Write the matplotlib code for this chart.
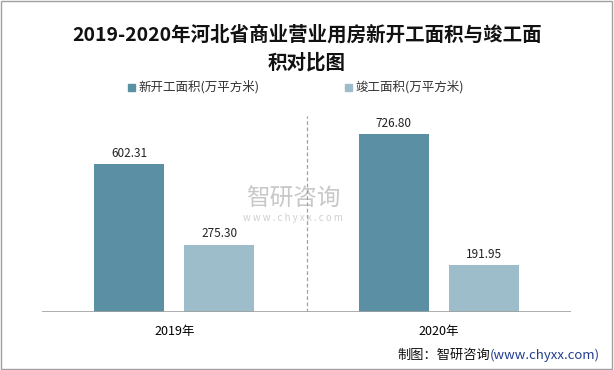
import matplotlib
matplotlib.use("Agg")
import matplotlib.pyplot as plt
from matplotlib.patches import Rectangle

plt.rcParams['font.family'] = ['Noto Sans CJK SC', 'DejaVu Sans']

years = ["2019年", "2020年"]
new_start = [602.31, 726.80]
completed = [275.30, 191.95]
series_names = ["新开工面积(万平方米)", "竣工面积(万平方米)"]
colors = ["#5b8fa4", "#9ebdca"]

fig = plt.figure(figsize=(6.14, 3.70), dpi=100)
fig.patches.append(Rectangle((0.002, 0.003), 0.995, 0.993, transform=fig.transFigure,
                             fill=False, edgecolor="#a0a0a0", linewidth=1))

# axes: x 42..571 px, y baseline 312, top 116 px (=800)
W, H = 614, 370
ax = fig.add_axes([42 / W, (H - 312) / H, (571 - 42) / W, (312 - 116) / H])

x = [0, 1]
bw = 0.265
off = 0.170
b1 = ax.bar([i - off for i in x], new_start, bw, color=colors[0])
b2 = ax.bar([i + off for i in x], completed, bw, color=colors[1])
for bars in (b1, b2):
    for r in bars:
        ax.text(r.get_x() + r.get_width() / 2, r.get_height() + 18, f"{r.get_height():.2f}",
                ha="center", va="bottom", fontsize=8.5, color="#222")

ax.set_xlim(-0.5, 1.5)
ax.set_ylim(0, 800)
ax.axvline(0.5, color="#a0a0a0", linestyle=(0, (3, 2)), linewidth=0.9)
ax.axhline(0, color="#a0a0a0", linewidth=1.2)
for s in ax.spines.values():
    s.set_visible(False)
ax.set_yticks([])
ax.set_xticks(x)
ax.set_xticklabels(years, fontsize=9)
ax.tick_params(axis="x", length=0, pad=9)

# watermark
ax.text(0.45, 460, "智研咨询", ha="center", va="center", fontsize=17, color="#c8c8c8", zorder=0)
ax.text(0.45, 385, "w w w . c h y x x . c o m", ha="center", va="center", fontsize=7, color="#d0d0d0", zorder=0)

fig.text(0.5, 1 - 35 / H, "2019-2020年河北省商业营业用房新开工面积与竣工面", ha="center", va="center",
         fontsize=14, fontweight="bold", color="#111")
fig.text(0.5, 1 - 63 / H, "积对比图", ha="center", va="center",
         fontsize=14, fontweight="bold", color="#111")

# legend
for lx, name, c in [(128, series_names[0], colors[0]), (345, series_names[1], colors[1])]:
    fig.patches.append(Rectangle((lx / W, 1 - 91 / H), 7 / W, 7 / H, transform=fig.transFigure,
                                 color=c))
    fig.text((lx + 10) / W, 1 - 87 / H, name, ha="left", va="center", fontsize=9, color="#333")

url = fig.text(600 / W, 1 - 355 / H, "(www.chyxx.com)", ha="right", va="center",
               fontsize=9.5, color="#1f3d8c")
fig.canvas.draw()
bb = url.get_window_extent()
fig.text(bb.x0 / W, 1 - 355 / H, "制图：智研咨询", ha="right", va="center",
         fontsize=9.5, color="#111")

fig.savefig("out.png", dpi=100)
